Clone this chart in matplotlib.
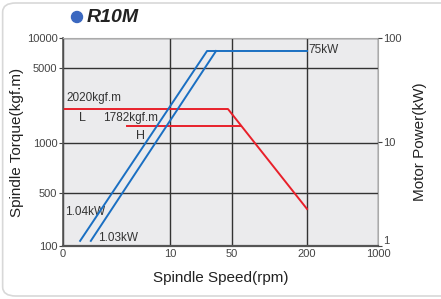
import numpy as np
import matplotlib
matplotlib.use('Agg')
import matplotlib.pyplot as plt
from matplotlib.patches import FancyBboxPatch, Ellipse

plt.rcParams['font.family'] = ['Liberation Sans', 'DejaVu Sans']

# axis tick values and where they sit on the (non-uniform) chart axes
x_ticks = [0, 10, 50, 200, 1000]
x_pos = [0, 107, 169, 244, 315]
y_ticks = [100, 500, 1000, 5000, 10000]
y_pos = [0, 53, 103, 178, 208]
p_ticks = [1, 10, 100]

# power lines (kW) on the right axis
speed_L_pw = [1.6, 33.9, 200]
power_L = [1.12, 75, 75]
speed_H_pw = [2.6, 39.7]
power_H = [1.12, 75]

# torque lines (kgf.m) on the left axis
speed_L_tq = [0, 47.4, 200]
torque_L = [2074, 2074, 308]
speed_H_tq = [6.0, 68]
torque_H = [1440, 1440]


def xf(v):
    return np.interp(v, x_ticks, x_pos)


def xi(p):
    return np.interp(p, x_pos, x_ticks)


ly = np.log10(y_ticks)


def yf(v):
    return np.interp(np.log10(np.maximum(v, 1e-9)), ly, y_pos)


def yi(p):
    return 10 ** np.interp(p, y_pos, ly)


fig = plt.figure(figsize=(4.41, 2.99), dpi=100)
fig.patches.append(FancyBboxPatch((0.006, 0.01), 1.2, 0.98, boxstyle='round,pad=0,rounding_size=0.03',
                                  transform=fig.transFigure, fc='white', ec='#d8d8d8', lw=1.2,
                                  zorder=-10))

ax = fig.add_axes([63 / 441, 53 / 299, 315 / 441, 208 / 299])
ax.set_facecolor('#ebebed')
ax.set_xscale('function', functions=(xf, xi))
ax.set_yscale('function', functions=(yf, yi))
ax.set_xlim(0, 1000)
ax.set_ylim(100, 10000)
ax.set_xticks(x_ticks)
ax.set_xticklabels([str(v) for v in x_ticks])
ax.set_yticks(y_ticks)
ax.set_yticklabels([str(v) for v in y_ticks])
ax.minorticks_off()
ax.grid(True, color='#333333', lw=1)
ax.set_axisbelow(True)
ax.tick_params(axis='x', length=0, labelsize=8, pad=2, colors='#444')
ax.tick_params(axis='y', length=3, labelsize=8, pad=1, colors='#444')
for s in ['left', 'bottom']:
    ax.spines[s].set_color('#555')
ax.spines['bottom'].set_linewidth(1.6)
ax.spines['left'].set_linewidth(1.2)
for s in ['top', 'right']:
    ax.spines[s].set_color('#aaaaaa')

ax.plot(speed_L_tq, torque_L, color='#e8202a', lw=1.4)
ax.plot(speed_H_tq, torque_H, color='#e8202a', lw=1.4)

ax2 = ax.twinx()
ax2.set_yscale('log')
ax2.set_ylim(1, 100)
ax2.set_yticks(p_ticks)
ax2.set_yticklabels([str(v) for v in p_ticks])
ax2.minorticks_off()
ax2.tick_params(axis='y', length=3, labelsize=8, pad=1, colors='#444')
ax2.get_yticklabels()[0].set_va('bottom')
for s in ['top', 'right', 'left', 'bottom']:
    ax2.spines[s].set_visible(False)
ax2.plot(speed_L_pw, power_L, color='#1a6fc2', lw=1.4)
ax2.plot(speed_H_pw, power_H, color='#1a6fc2', lw=1.4)

ax.set_xlabel('Spindle Speed(rpm)', fontsize=11, color='#222', labelpad=9)
ax.set_ylabel('Spindle Torque(kgf.m)', fontsize=11, color='#222', labelpad=2)
ax2.set_ylabel('Motor Power(kW)', fontsize=11, color='#222', labelpad=8)

tc = '#333'
ax.text(0.3, 2300, '2020kgf.m', fontsize=8.5, color=tc, va='bottom')
ax.text(1.5, 1700, 'L', fontsize=9, color=tc, va='center')
ax.text(3.7, 1700, '1782kgf.m', fontsize=8.5, color=tc, va='center')
ax.text(6.8, 1150, 'H', fontsize=9, color=tc, va='center')
ax.text(0.2, 280, '1.04kW', fontsize=8.5, color=tc, va='center')
ax.text(3.3, 128, '1.03kW', fontsize=8.5, color=tc, va='center')
ax.text(210, 7600, '75kW', fontsize=8.5, color=tc, va='center')

fig.patches.append(Ellipse((77 / 441, 1 - 17 / 299), 11 / 441, 11 / 299, transform=fig.transFigure,
                           color='#3b68c0'))
fig.text(87 / 441, 1 - 17 / 299, 'R10M', fontsize=14, fontweight='bold', fontstyle='italic',
         color='#222', va='center')

fig.savefig('out.png', dpi=100)
